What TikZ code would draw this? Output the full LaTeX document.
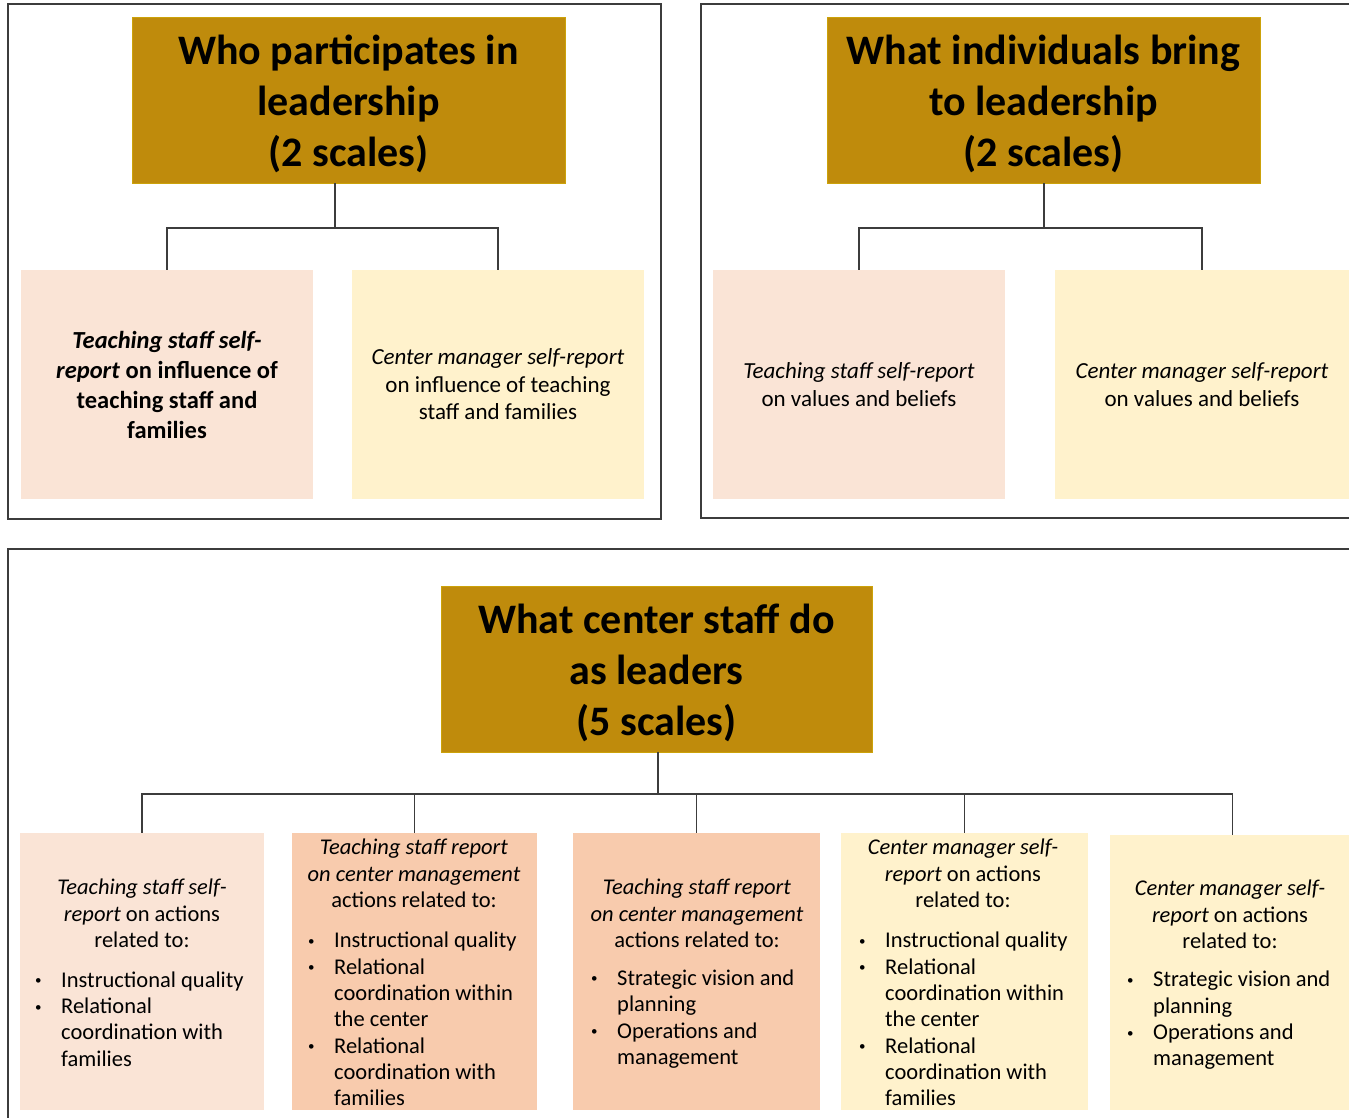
\documentclass[tikz,border=0pt]{standalone}
\usepackage{fontspec}
\setmainfont{Carlito}
\definecolor{gold}{RGB}{191,139,12}
\definecolor{peachL}{RGB}{250,228,214}
\definecolor{peachD}{RGB}{248,203,173}
\definecolor{yellowL}{RGB}{255,242,204}
\definecolor{lineC}{RGB}{60,60,60}
\newcommand{\bul}{\makebox[28pt][l]{\hspace*{2pt}\raisebox{2.5pt}{\fontsize{13}{13}\selectfont\textbullet}}}
\newcommand{\ind}{\hspace*{28pt}}
\begin{document}
\begin{tikzpicture}[x=1pt,y=-1pt,
  framebox/.style={draw=lineC,line width=1.3pt,fill=none,inner sep=0pt},
  titlebox/.style={fill=gold,draw=gold!80!yellow,line width=0.8pt,inner sep=0pt},
  titletext/.style={inner sep=0pt,align=center,font=\fontsize{42}{51}\selectfont\bfseries,text=black},
  childbox/.style={inner sep=0pt,align=center,font=\fontsize{23}{27.5}\selectfont},
  headtext/.style={inner sep=0pt,align=center,font=\fontsize{22.5}{26.3}\selectfont},
  listtext/.style={inner sep=0pt,align=left,font=\fontsize{22.5}{26.3}\selectfont},
  conn/.style={draw=lineC,line width=1.4pt}]
\useasboundingbox (0,0) rectangle (1349,1117);
\clip (0,0) rectangle (1349,1117);
\fill[white] (0,0) rectangle (1349,1117);

% frames
\node[framebox,minimum width=653pt,minimum height=515pt] (f1) at (334.5,261.5) {};
\node[framebox,minimum width=659pt,minimum height=514pt] (f2) at (1030.5,261) {};
\node[framebox,minimum width=1352pt,minimum height=581pt] (f3) at (684,839.5) {};

% panel 1
\node[titlebox,minimum width=433pt,minimum height=166pt] (t1) at (348.5,100) {};
\node[titletext] (t1txt) at ([yshift=-4pt]t1.center) {Who participates in\\leadership\\(2 scales)};
\node[childbox,fill=peachL,minimum width=292pt,minimum height=229pt,font=\fontsize{24.5}{30}\selectfont\bfseries] (a1) at (167,384.5)
  {\textit{Teaching staff self-}\\\textit{report} on influence of\\teaching staff and\\families};
\node[childbox,fill=yellowL,minimum width=292pt,minimum height=229pt] (a2) at (498,384.5)
  {\textit{Center manager self-report}\\on influence of teaching\\staff and families};
\coordinate (j1) at (335,228);
\draw[conn] (j1 |- t1.south) -- (j1);
\draw[conn] (j1) -| (a1.north);
\draw[conn] (j1) -| (a2.north);

% panel 2
\node[titlebox,minimum width=433pt,minimum height=166pt] (t2) at (1043.5,100) {};
\node[titletext] (t2txt) at ([yshift=-4pt]t2.center) {What individuals bring\\to leadership\\(2 scales)};
\node[childbox,fill=peachL,minimum width=292pt,minimum height=229pt] (b1) at (859,384.5)
  {\textit{Teaching staff self-report}\\on values and beliefs};
\node[childbox,fill=yellowL,minimum width=294pt,minimum height=229pt] (b2) at (1202,384.5)
  {\textit{Center manager self-report}\\on values and beliefs};
\coordinate (j2) at (1044,228);
\draw[conn] (j2 |- t2.south) -- (j2);
\draw[conn] (j2) -| (b1.north);
\draw[conn] (j2) -| (b2.north);

% panel 3
\node[titlebox,minimum width=431pt,minimum height=166pt] (t3) at (656.5,669) {};
\node[titletext] (t3txt) at ([yshift=-4pt]t3.center) {What center staff do\\as leaders\\(5 scales)};
\node[fill=peachL,inner sep=0pt,minimum width=244pt,minimum height=277pt] (c1) at (142,971.5) {};
\node[fill=peachD,inner sep=0pt,minimum width=245pt,minimum height=277pt] (c2) at (414.5,971.5) {};
\node[fill=peachD,inner sep=0pt,minimum width=247pt,minimum height=277pt] (c3) at (696.5,971.5) {};
\node[fill=yellowL,inner sep=0pt,minimum width=247pt,minimum height=277pt] (c4) at (964.5,971.5) {};
\node[fill=yellowL,inner sep=0pt,minimum width=245pt,minimum height=275pt] (c5) at (1232.5,972.5) {};

\coordinate (j3) at (658,794);
\draw[conn,line width=2pt] (j3 |- t3.south) -- (j3);
\draw[conn] (j3) -| (c1.north);
\draw[conn] (j3) -| (c2.north);
\draw[conn] (j3) -| (c3.north);
\draw[conn] (j3) -| (c4.north);
\draw[conn,line width=2.2pt] (j3) -- (j3 -| c4.north);
\draw[conn] (j3) -| (c5.north);

% texts in bottom boxes
\node[headtext] (h1) at (142,913.5) {\textit{Teaching staff self-}\\\textit{report} on actions\\related to:};
\node[listtext,anchor=west] (l1) at (33,1019) {\bul Instructional quality\\\bul Relational\\\ind coordination with\\\ind families};

\node[headtext] (h2) at (414,873.5) {\textit{Teaching staff report}\\\textit{on center management}\\actions related to:};
\node[listtext,anchor=west] (l2) at (306,1019) {\bul Instructional quality\\\bul Relational\\\ind coordination within\\\ind the center\\\bul Relational\\\ind coordination with\\\ind families};

\node[headtext] (h3) at (697,913.5) {\textit{Teaching staff report}\\\textit{on center management}\\actions related to:};
\node[listtext,anchor=west] (l3) at (589,1019) {\bul Strategic vision and\\\ind planning\\\bul Operations and\\\ind management};

\node[headtext] (h4) at (963,873.5) {\textit{Center manager\ self-}\\\textit{report} on actions\\related to:};
\node[listtext,anchor=west] (l4) at (857,1019) {\bul Instructional quality\\\bul Relational\\\ind coordination within\\\ind the center\\\bul Relational\\\ind coordination with\\\ind families};

\node[headtext] (h5) at (1230,914.5) {\textit{Center manager\ self-}\\\textit{report} on actions\\related to:};
\node[listtext,anchor=west] (l5) at (1125,1020.5) {\bul Strategic vision and\\\ind planning\\\bul Operations and\\\ind management};
\end{tikzpicture}
\end{document}
